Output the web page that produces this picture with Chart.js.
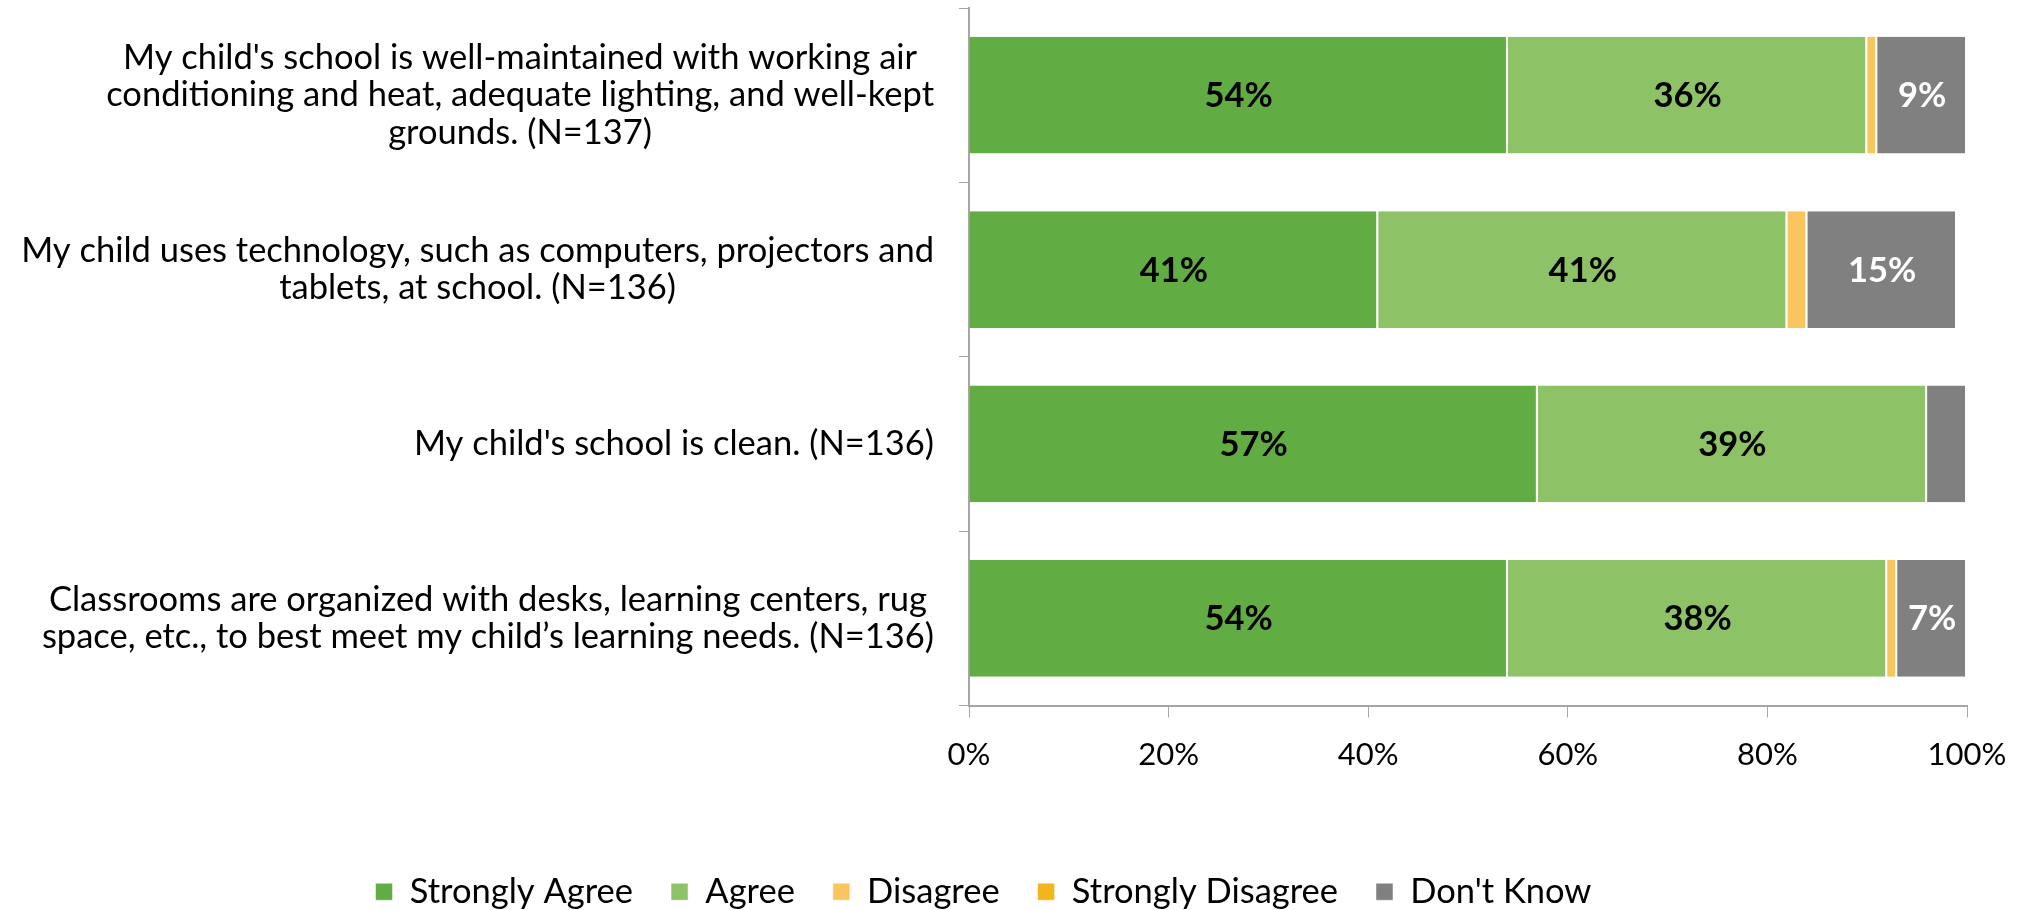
<!DOCTYPE html>
<html>
<head>
<meta charset="utf-8">
<script src="https://cdn.jsdelivr.net/npm/chart.js@4.4.1/dist/chart.umd.min.js"></script>
<style>
  html, body { margin: 0; padding: 0; background: #fff; }
  #wrap { width: 2028px; height: 910px; }
</style>
</head>
<body>
<div id="wrap"><canvas id="surveyChart" width="2028" height="910"></canvas></div>
<script>
// survey statements (wrapped as in the original)
const categories = [
    ["My child's school is well-maintained with working air", "conditioning and heat, adequate lighting, and well-kept", "grounds. (N=137)"],
    ["My child uses technology, such as computers, projectors and", "tablets, at school. (N=136)"],
    ["My child's school is clean. (N=136)"],
    ["Classrooms are organized with desks, learning centers, rug", "space, etc., to best meet my child\u2019s learning needs. (N=136)"]
];

const stronglyAgree = [54, 41, 57, 54];
const agree = [36, 41, 39, 38];
const disagree = [1, 2, 0, 1];
const stronglyDisagree = [0, 0, 0, 0];
const dontKnow = [9, 15, 4, 7];

const xTicks = [0, 20, 40, 60, 80, 100];

const FONT = 'Lato';
const FONT_SIZE = 34.5;
const TICK_SIZE = 31;

// value labels inside the segments (only the larger ones, like the original)
const segmentLabels = {
    id: 'segmentLabels',
    afterDatasetsDraw(chart) {
        const ctx = chart.ctx;
        ctx.save();
        ctx.font = 'bold ' + FONT_SIZE + 'px ' + FONT;
        ctx.textAlign = 'center';
        ctx.textBaseline = 'middle';
        chart.data.datasets.forEach((ds, i) => {
            const meta = chart.getDatasetMeta(i);
            meta.data.forEach((bar, j) => {
                const v = ds.data[j];
                if (v < 5) return;
                ctx.fillStyle = ds.labelColor;
                ctx.fillText(v + '%', (bar.x + bar.base) / 2, bar.y + 1);
            });
        });
        ctx.restore();
    }
};

// category labels: block right-aligned to the axis, lines centred inside the block
const categoryLabels = {
    id: 'categoryLabels',
    afterDraw(chart) {
        const ctx = chart.ctx;
        const yScale = chart.scales.y;
        const right = chart.chartArea.left - 35;
        const lineH = 37.5;
        ctx.save();
        ctx.font = FONT_SIZE + 'px ' + FONT;
        ctx.fillStyle = '#000';
        ctx.textAlign = 'center';
        ctx.textBaseline = 'middle';
        categories.forEach((lines, j) => {
            const w = Math.max(...lines.map(l => ctx.measureText(l).width));
            const cx = right - w / 2;
            const cy = yScale.getPixelForValue(j);
            const top = cy - (lines.length - 1) * lineH / 2;
            lines.forEach((l, k) => ctx.fillText(l, cx, top + k * lineH));
        });
        ctx.restore();
    }
};

const ctx = document.getElementById('surveyChart').getContext('2d');
const surveyChart = new Chart(ctx, {
    type: 'bar',
    data: {
        labels: categories.map(c => c.join(' ')),
        datasets: [
            { label: 'Strongly Agree', data: stronglyAgree, backgroundColor: '#62AC44', labelColor: '#000' },
            { label: 'Agree', data: agree, backgroundColor: '#8DC366', labelColor: '#000' },
            { label: 'Disagree', data: disagree, backgroundColor: '#F8C55F', labelColor: '#000' },
            { label: 'Strongly Disagree', data: stronglyDisagree, backgroundColor: '#F3B51C', labelColor: '#000' },
            { label: "Don't Know", data: dontKnow, backgroundColor: '#808080', labelColor: '#fff' }
        ].map(ds => Object.assign(ds, {
            borderColor: '#fff',
            borderWidth: { top: 0, bottom: 0, left: 0, right: 2 },
            borderSkipped: false,
            barPercentage: 0.67,
            categoryPercentage: 1
        }))
    },
    options: {
        indexAxis: 'y',
        responsive: false,
        animation: false,
        devicePixelRatio: 1,
        layout: {
            padding: { top: 8, right: 61, left: 0, bottom: -9 }
        },
        plugins: {
            legend: {
                position: 'bottom',
                labels: {
                    font: { family: FONT, size: FONT_SIZE },
                    color: '#000',
                    boxWidth: 17,
                    boxHeight: 17,
                    padding: 38
                }
            },
            tooltip: { enabled: false }
        },
        scales: {
            x: {
                stacked: true,
                min: 0,
                max: 100,
                afterBuildTicks: function(scale) {
                    scale.ticks = xTicks.map(v => ({ value: v }));
                },
                afterFit: function(scale) {
                    scale.height = 131;
                },
                ticks: {
                    font: { family: FONT, size: TICK_SIZE },
                    color: '#000',
                    padding: 19,
                    callback: function(value) {
                        return value + '%';
                    }
                },
                grid: {
                    drawOnChartArea: false,
                    drawTicks: true,
                    tickLength: 12,
                    color: '#A6A6A6'
                },
                border: { color: '#A6A6A6', width: 2 }
            },
            y: {
                stacked: true,
                afterFit: function(scale) {
                    scale.width = 969;
                },
                ticks: { display: false },
                grid: {
                    drawOnChartArea: false,
                    drawTicks: true,
                    tickLength: 10,
                    color: '#A6A6A6',
                    offset: true
                },
                border: { color: '#A6A6A6', width: 2 }
            }
        }
    },
    plugins: [segmentLabels, categoryLabels]
});
</script>
</body>
</html>
